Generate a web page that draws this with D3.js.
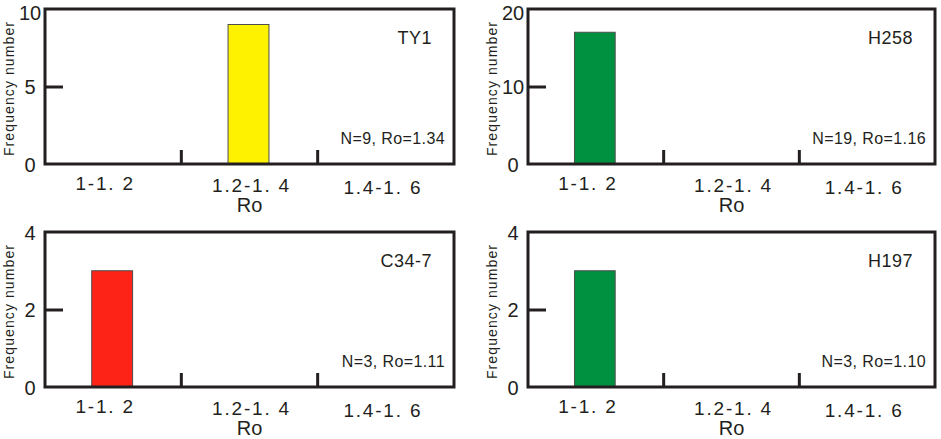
<!DOCTYPE html>
<html lang="en">
<head>
    <meta charset="UTF-8">
    <title>Ro frequency histograms</title>
    <script src="https://d3js.org/d3.v7.min.js"></script>
    <style>
        body {
            margin: 0;
            background: #fff;
            font-family: "Liberation Sans", Arial, sans-serif;
        }
        svg { display: block; }
    </style>
</head>
<body>
    <svg width="941" height="439"></svg>

    <script>
        // data
        const roBins = ["1-1.2", "1.2-1.4", "1.4-1.6"];
        const binLabels = ["1-1. 2", "1.2-1. 4", "1.4-1. 6"];

        const wells = ["TY1", "H258", "C34-7", "H197"];
        const counts = [
            [0, 9, 0],
            [17, 0, 0],
            [3, 0, 0],
            [3, 0, 0]
        ];
        const yMaxes = [10, 20, 4, 4];
        const yTicks = [[0, 5, 10], [0, 10, 20], [0, 2, 4], [0, 2, 4]];
        const notes = ["N=9, Ro=1.34", "N=19, Ro=1.16", "N=3, Ro=1.11", "N=3, Ro=1.10"];
        const barColors = ["#fff200", "#009140", "#fe2317", "#009140"];

        // layout of the 2x2 grid (frame boxes)
        const frames = [
            { x0: 45, x1: 454, y0: 9, y1: 164 },
            { x0: 528, x1: 935, y0: 9, y1: 164 },
            { x0: 45, x1: 454, y0: 232, y1: 387 },
            { x0: 528, x1: 935, y0: 232, y1: 387 }
        ];
        const labelDx = [-8, 2, -3];
        const labelDy = [26, 28, 30];
        const ink = "#231f20";
        const fontFamily = "'Liberation Sans', Arial, sans-serif";

        const svg = d3.select("svg");

        wells.forEach((well, i) => {
            const f = frames[i];
            const w = f.x1 - f.x0, h = f.y1 - f.y0;
            const data = roBins.map((b, j) => ({ bin: b, n: counts[i][j] }));

            const x = d3.scaleBand().domain(roBins).range([0, w]).padding(0);
            const y = d3.scaleLinear().domain([0, yMaxes[i]]).range([h, 0]);

            const g = svg.append("g").attr("transform", `translate(${f.x0},${f.y0})`);

            // bars
            const bw = x.bandwidth() * 0.3;
            g.selectAll("rect.bar")
                .data(data.filter(d => d.n > 0))
                .enter().append("rect")
                .attr("class", "bar")
                .attr("x", d => x(d.bin) + x.bandwidth() / 2 - bw / 2 - 1)
                .attr("y", d => y(d.n))
                .attr("width", bw)
                .attr("height", d => y(0) - y(d.n))
                .attr("fill", barColors[i])
                .attr("stroke", "#4d4d4d")
                .attr("stroke-width", 1);

            // y axis: inward tick only for middle value
            const yAxis = g.append("g")
                .call(d3.axisLeft(y).tickValues(yTicks[i]).tickFormat(d3.format("d"))
                    .tickSize(-18).tickPadding(0));
            yAxis.select(".domain").remove();
            yAxis.selectAll(".tick line")
                .attr("stroke", ink)
                .attr("stroke-width", 3)
                .attr("display", d => (d === 0 || d === yMaxes[i]) ? "none" : null);
            yAxis.selectAll(".tick text")
                .attr("x", -15)
                .attr("dy", d => (f.y0 < 20 && d === yMaxes[i]) ? "0.5em" : "0.36em")
                .attr("text-anchor", "middle")
                .attr("fill", ink)
                .style("font-size", "20px")
                .style("font-family", fontFamily);

            // x axis labels under band centres
            const xAxis = g.append("g")
                .attr("transform", `translate(0,${h})`)
                .call(d3.axisBottom(x).tickSize(0).tickFormat((d, j) => binLabels[j]));
            xAxis.select(".domain").remove();
            xAxis.selectAll(".tick text")
                .attr("x", (d, j) => labelDx[j])
                .attr("y", (d, j) => labelDy[j])
                .attr("dy", 0)
                .attr("fill", ink)
                .style("font-size", "19px")
                .style("letter-spacing", "1.8px")
                .style("font-family", fontFamily);

            // boundary ticks between bins
            g.selectAll("line.xtick")
                .data(roBins.slice(1))
                .enter().append("line")
                .attr("class", "xtick")
                .attr("x1", d => x(d)).attr("x2", d => x(d))
                .attr("y1", h).attr("y2", h - 14)
                .attr("stroke", ink)
                .attr("stroke-width", 3);

            // frame
            g.append("rect")
                .attr("x", 0).attr("y", 0)
                .attr("width", w).attr("height", h)
                .attr("fill", "none")
                .attr("stroke", ink)
                .attr("stroke-width", 3);

            // axis titles
            g.append("text")
                .attr("transform", `translate(${-36},${h / 2 + 2}) rotate(-90)`)
                .attr("text-anchor", "middle")
                .attr("dy", "0.35em")
                .attr("fill", ink)
                .style("font-size", "14px")
                .style("letter-spacing", "1.1px")
                .text("Frequency number");

            g.append("text")
                .attr("x", x.range()[1] / 2)
                .attr("y", h + 48)
                .attr("text-anchor", "middle")
                .attr("fill", ink)
                .style("font-size", "20px")
                .text("Ro");

            // well name and summary
            g.append("text")
                .attr("x", w - 22)
                .attr("y", 35)
                .attr("text-anchor", "end")
                .attr("fill", ink)
                .style("font-size", "18px")
                .style("letter-spacing", "0.5px")
                .text(well);

            g.append("text")
                .attr("x", w - 9)
                .attr("y", h - 20)
                .attr("text-anchor", "end")
                .attr("fill", ink)
                .style("font-size", "16px")
                .style("letter-spacing", "0.4px")
                .text(notes[i]);
        });
    </script>
</body>
</html>
